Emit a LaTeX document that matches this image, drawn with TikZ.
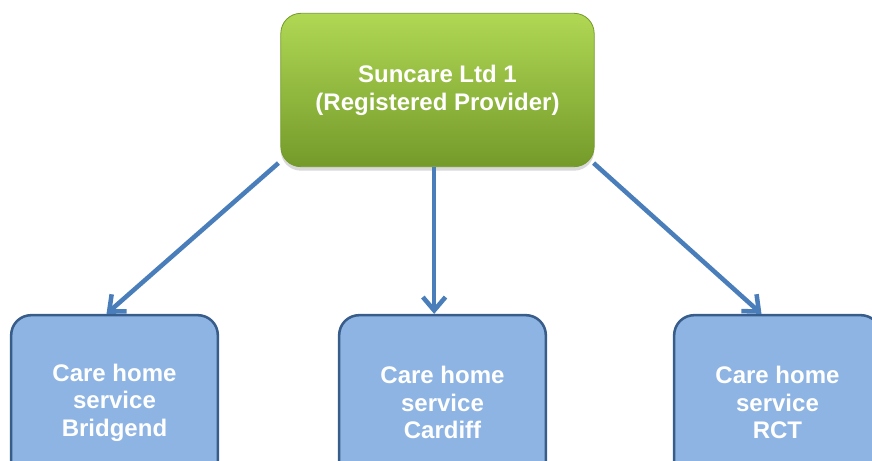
\documentclass[tikz,border=0pt]{standalone}
\usepackage{fontspec}
\setmainfont{Liberation Sans}
\usetikzlibrary{arrows.meta,shadows}
\definecolor{provtop}{RGB}{176,216,84}
\definecolor{provbot}{RGB}{116,154,42}
\definecolor{carefill}{RGB}{142,180,227}
\definecolor{careline}{RGB}{56,93,138}
\definecolor{arrowblue}{RGB}{74,126,187}
\begin{document}
\begin{tikzpicture}[x=0.75pt,y=0.75pt,
    provider/.style={rounded corners=15pt,top color=provtop,bottom color=provbot,
        draw=provbot,line width=0.6pt,minimum width=235pt,minimum height=115pt,
        text=white,align=center,font=\bfseries\fontsize{18}{21}\selectfont,
        drop shadow={opacity=0.3,shadow xshift=0pt,shadow yshift=-3pt}},
    service/.style={rounded corners=15pt,fill=carefill,draw=careline,line width=1.9pt,
        minimum width=155pt,minimum height=131pt,
        text=white,align=center,font=\bfseries\fontsize{18}{20.6}\selectfont},
    link/.style={draw=arrowblue,line width=3.4pt,-{Straight Barb[length=10pt,width=17pt]}}]
    \useasboundingbox (0,0) rectangle (872,461);
    \clip (0,0) rectangle (872,461);
    % provider and the three services
    \node[provider] (prov) at (437.5,371) {Suncare Ltd 1\\(Registered Provider)};
    \node[service] (bridgend) at (114.5,58.5) {Care home\\service\\Bridgend};
    \node[service] (cardiff) at (442.5,58.5) {Care home\\service\\Cardiff};
    \node[service] (rct) at (777.5,58.5) {Care home\\service\\RCT};
    % arrows
    \coordinate (down) at ([xshift=-2.5]prov.south);
    \draw[link] ([shift={(-2,4)}]prov.south west) -- ([xshift=-6]bridgend.north);
    \draw[link] (down) -- (down |- cardiff.north);
    \draw[link] ([shift={(-1,4)}]prov.south east) -- ([xshift=-12]rct.north);
\end{tikzpicture}
\end{document}
